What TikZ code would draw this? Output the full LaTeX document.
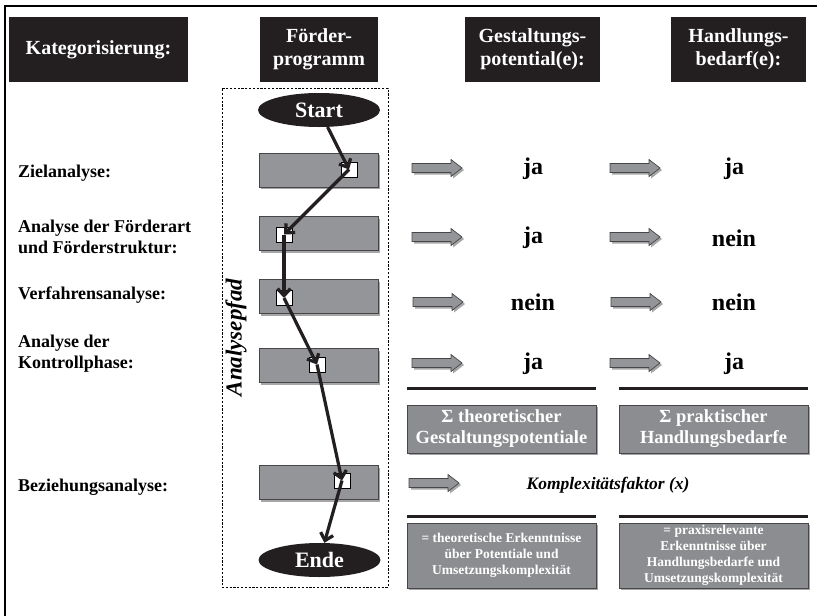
\documentclass[tikz,border=0pt]{standalone}
\usepackage{fontspec}
\setmainfont{Liberation Serif}
\usetikzlibrary{shapes.geometric,shadows,arrows.meta}
\definecolor{hdrblack}{RGB}{35,31,32}
\definecolor{bargray}{RGB}{147,149,152}
\definecolor{boxgray}{RGB}{140,141,144}
\definecolor{bordergray}{RGB}{70,70,72}
\tikzset{
  hdr/.style={fill=hdrblack, text=white, align=center, inner sep=0pt,
    font=\bfseries\fontsize{20}{23}\selectfont},
  lbl/.style={font=\bfseries\fontsize{18}{21}\selectfont, align=left, anchor=west, inner sep=0pt},
  myshadow/.style={drop shadow={shadow xshift=2pt, shadow yshift=-2pt, opacity=0.35, fill=black}},
  bar/.style={draw=bordergray, fill=bargray, minimum width=119pt, minimum height=34pt,
    inner sep=0pt, line width=0.8pt, myshadow},
  sq/.style={draw=black, fill=white, minimum width=16pt, minimum height=15pt, inner sep=0pt, line width=0.7pt},
  flow/.style={line width=3.2pt, draw=hdrblack, -{Straight Barb[length=7pt,width=13pt]}},
  term/.style={ellipse, fill=hdrblack, text=white, minimum width=122pt, minimum height=34pt,
    inner sep=0pt, font=\bfseries\fontsize{22}{24}\selectfont},
  yn/.style={font=\bfseries\fontsize{24}{28}\selectfont},
  sumbox/.style={draw=bordergray, fill=boxgray, text=white, minimum width=189pt, minimum height=48pt,
    inner sep=0pt, align=center, line width=0.8pt, font=\bfseries\fontsize{18.5}{21}\selectfont, myshadow},
  resbox/.style={draw=bordergray, fill=boxgray, text=white, minimum width=189pt, minimum height=65pt,
    inner sep=0pt, align=center, line width=0.8pt, font=\bfseries\fontsize{13.5}{16}\selectfont, myshadow},
  rulebar/.style={line width=3pt, draw=hdrblack},
  arrowstyle/.style={draw=bordergray, fill=bargray, line width=0.7pt, myshadow},
  barrow/.pic={\path[arrowstyle] (0,-4.5) -- (39,-4.5) -- (39,-8.5) -- (50,0) -- (39,8.5) -- (39,4.5) -- (0,4.5) -- cycle;}
}
\begin{document}
\begin{tikzpicture}[x=1pt,y=-1pt]
\useasboundingbox (0,0) rectangle (817,616);
% outer frame (top and left edges)
\draw[line width=1.4pt] (5,616) -- (5,6) -- (817,6);

% headers
\node[hdr, minimum width=179pt, minimum height=65pt] (hkat) at (98.5,49.5) {Kategorisierung:};
\node[hdr, minimum width=118pt, minimum height=65pt] (hfp) at (319,49.5) {Förder-\\programm};
\node[hdr, minimum width=135pt, minimum height=65pt] (hgp) at (532.5,49.5) {Gestaltungs-\\potential(e):};
\node[hdr, minimum width=135pt, minimum height=65pt] (hhb) at (738.5,49.5) {Handlungs-\\bedarf(e):};

% dashed path box
\node[draw, dash pattern=on 2.2pt off 1.6pt, line width=0.6pt, minimum width=166pt, minimum height=499pt, inner sep=0pt] (pathbox) at (305,337.5) {};
\node[rotate=90, font=\bfseries\itshape\fontsize{23}{26}\selectfont, inner sep=0pt] (apfad) at (236,337.5) {Analysepfad};

% left labels
\node[lbl] (l1) at (18,173) {Zielanalyse:};
\node[lbl] (l2) at (18,236.5) {Analyse der Förderart\\und Förderstruktur:};
\node[lbl] (l3) at (18,295) {Verfahrensanalyse:};
\node[lbl] (l4) at (18,353.5) {Analyse der\\Kontrollphase:};
\node[lbl] (l5) at (18,487) {Beziehungsanalyse:};

% terminals
\node[term] (start) at (319,110) {Start};
\node[term] (ende) at (319.5,560) {Ende};

% bars
\node[bar] (b1) at (318.5,170) {};
\node[bar] (b2) at (318.5,233.5) {};
\node[bar] (b3) at (318.5,296.5) {};
\node[bar] (b4) at (318.5,365.5) {};
\node[bar] (b5) at (318.5,482.5) {};

% squares
\node[sq] (s1) at (349,169.5) {};
\node[sq] (s2) at (284,234.5) {};
\node[sq] (s3) at (284,298) {};
\node[sq] (s4) at (317,364.5) {};
\node[sq] (s5) at (342,480.5) {};

% flow path
\draw[flow] (start) -- (s1.center);
\draw[flow] (s1.center) -- (s2.center);
\draw[flow] (s2.center) -- (s3.center);
\draw[flow] (s3.center) -- (s4.center);
\draw[flow] (s4.center) -- (s5.center);
\draw[flow] (s5.center) -- (ende);

% block arrows
\pic (a11) at (412,168) {barrow};
\pic (a12) at (610,168) {barrow};
\pic (a21) at (412,237) {barrow};
\pic (a22) at (610,237) {barrow};
\pic (a31) at (413,302) {barrow};
\pic (a32) at (611,302) {barrow};
\pic (a41) at (412,363) {barrow};
\pic (a42) at (610,363) {barrow};
\pic (a51) at (409,483) {barrow};

% ja / nein
\node[yn] (g1) at (533,169) {ja};
\node[yn] (h1) at (734,169) {ja};
\node[yn] (g2) at (533,238) {ja};
\node[yn] (h2) at (734,238) {nein};
\node[yn] (g3) at (533,302) {nein};
\node[yn] (h3) at (734,302) {nein};
\node[yn] (g4) at (533,364) {ja};
\node[yn] (h4) at (734,364) {ja};

% sum boxes
\node[sumbox] (sum1) at (501.5,429) {Σ theoretischer\\Gestaltungspotentiale};
\node[sumbox] (sum2) at (713.5,429) {Σ praktischer\\Handlungsbedarfe};
\draw[rulebar] ([yshift=16pt]sum1.north west) -- ([yshift=16pt]sum1.north east);
\draw[rulebar] ([yshift=16pt]sum2.north west) -- ([yshift=16pt]sum2.north east);

\node[font=\bfseries\itshape\fontsize{17.5}{20}\selectfont] (kf) at (608,485) {Komplexitätsfaktor (x)};

% result boxes
\node[resbox] (r1) at (501.5,555.5) {= theoretische Erkenntnisse\\über Potentiale und\\Umsetzungskomplexität};
\node[resbox] (r2) at (713.5,555.5) {= praxisrelevante\\Erkenntnisse über\\Handlungsbedarfe und\\Umsetzungskomplexität};
\draw[rulebar] ([yshift=6pt]r1.north west) -- ([yshift=6pt]r1.north east);
\draw[rulebar] ([yshift=6pt]r2.north west) -- ([yshift=6pt]r2.north east);
\end{tikzpicture}
\end{document}
